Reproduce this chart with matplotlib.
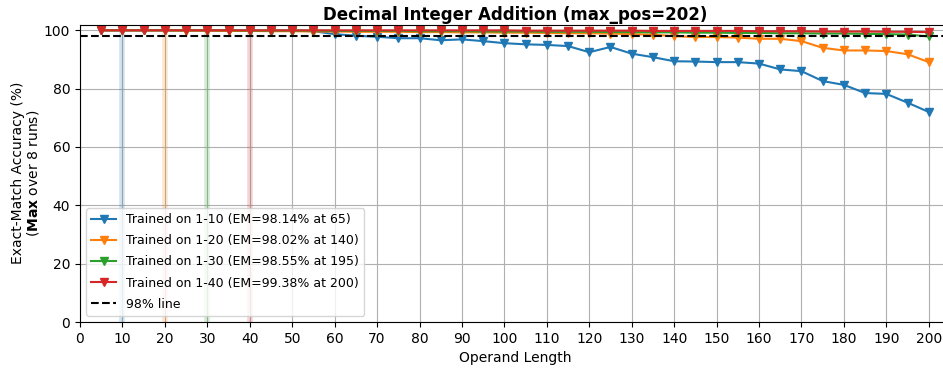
import numpy as np
import matplotlib
matplotlib.use("Agg")
import matplotlib.pyplot as plt

# operand lengths evaluated
lengths = list(range(5, 205, 5))

acc_1_10 = [100, 100, 100, 100, 100, 100, 100, 99.9, 99.9, 99.9,
            99.7, 98.7, 98.14, 97.8, 97.3, 97.3, 96.6, 96.9, 96.3, 95.6,
            95.2, 95.0, 94.6, 92.5, 94.3, 92.0, 90.8, 89.4, 89.3, 89.1,
            89.1, 88.6, 86.6, 86.0, 82.6, 81.3, 78.5, 78.2, 75.2, 72.0]
acc_1_20 = [100, 100, 100, 100, 99.9, 99.9, 99.8, 99.8, 99.7, 99.7,
            99.6, 99.6, 99.5, 99.5, 99.5, 99.4, 99.4, 99.3, 99.3, 99.2,
            99.2, 99.1, 99.0, 99.0, 98.9, 98.7, 98.5, 98.02, 97.7, 97.7,
            97.5, 97.1, 97.1, 96.3, 94.0, 93.1, 93.1, 92.9, 91.8, 89.1]
acc_1_30 = [100, 100, 100, 100, 100, 100, 100, 99.9, 99.9, 99.9,
            99.9, 99.8, 99.8, 99.8, 99.8, 99.7, 99.7, 99.7, 99.6, 99.6,
            99.6, 99.5, 99.5, 99.5, 99.4, 99.4, 99.3, 99.3, 99.2, 99.2,
            99.1, 99.1, 99.0, 99.0, 98.9, 98.9, 98.8, 98.7, 98.55, 97.9]
acc_1_40 = [100, 100, 100, 100, 100, 100, 100, 100, 100, 100,
            100, 100, 100, 100, 100, 100, 100, 100, 100, 100,
            99.9, 99.9, 99.9, 99.9, 99.9, 99.9, 99.8, 99.8, 99.8, 99.8,
            99.8, 99.7, 99.7, 99.7, 99.6, 99.6, 99.6, 99.5, 99.5, 99.38]

train_max = [10, 20, 30, 40]
em_vals = [98.14, 98.02, 98.55, 99.38]
em_at = [65, 140, 195, 200]
series = [acc_1_10, acc_1_20, acc_1_30, acc_1_40]
colors = ['C0', 'C1', 'C2', 'C3']

fig = plt.figure(figsize=(9.43, 3.69), dpi=100)
ax = fig.add_axes([80 / 943, 47 / 369, 870 / 943, 297.5 / 369])

for tm, acc, em, at, c in zip(train_max, series, em_vals, em_at, colors):
    ax.plot(lengths, acc, marker='v', markersize=6, color=c,
            label=f"Trained on 1-{tm} (EM={em:.2f}% at {at})")
    ax.axvline(tm, color=c, alpha=0.2, linewidth=4)

ax.axhline(98, color='black', linestyle='--', label='98% line')

ax.set_xlim(0, 205)
ax.set_ylim(0, 102)
ax.set_xticks(np.arange(0, 201, 10))
ax.set_title("Decimal Integer Addition (max_pos=202)", fontweight='bold', pad=3)
ax.set_xlabel("Operand Length")
ax.set_ylabel("Exact-Match Accuracy (%)\n($\\bf{Max}$ over 8 runs)",
              linespacing=1.0, labelpad=2)
ax.grid(True)
ax.legend(loc='lower left', fontsize=9, labelspacing=0.65)

fig.savefig("out.png", dpi=100)
